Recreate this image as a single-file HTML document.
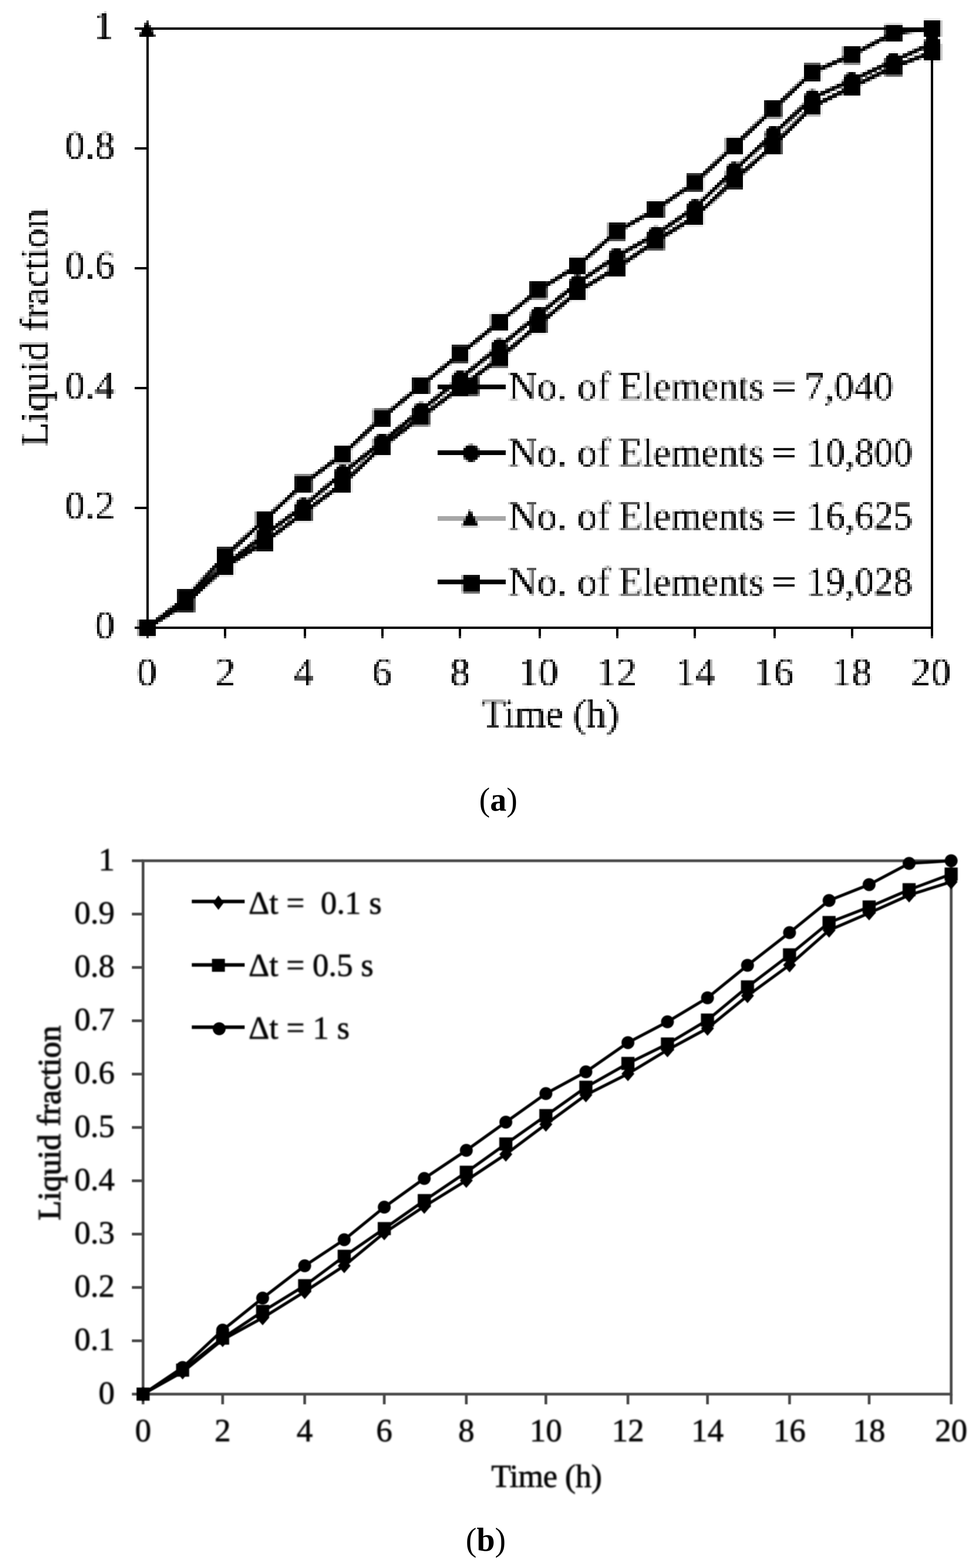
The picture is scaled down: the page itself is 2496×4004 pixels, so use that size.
<!DOCTYPE html>
<html lang="en">
<head>
<meta charset="utf-8">
<title>Liquid fraction: grid and time-step independence</title>
<style>
html,body{margin:0;padding:0;background:#fff;}
body{width:2496px;height:4004px;position:relative;}
svg{display:block;position:absolute;left:0;top:0;}
text{font-family:'Liberation Serif', 'DejaVu Serif', serif;fill:#000;}
.ta{font-size:102px;}
.tb{font-size:82.5px;fill:#262626;stroke:#262626;stroke-width:1.5px;}
.cap{font-size:84px;}
</style>
</head>
<body>
<svg width="2496" height="4004" viewBox="0 0 2496 4004">
<defs>
<filter id="pix" x="-4" y="-2" width="2502" height="1932" filterUnits="userSpaceOnUse" primitiveUnits="userSpaceOnUse" color-interpolation-filters="sRGB">
<feFlood x="-4" y="-2" width="1" height="6" flood-color="rgb(132,0,0)" result="r0"/>
<feFlood x="-3" y="-2" width="1" height="6" flood-color="rgb(130,0,0)" result="r1"/>
<feFlood x="-2" y="-2" width="1" height="6" flood-color="rgb(129,0,0)" result="r2"/>
<feFlood x="-1" y="-2" width="1" height="6" flood-color="rgb(128,0,0)" result="r3"/>
<feFlood x="0" y="-2" width="1" height="6" flood-color="rgb(126,0,0)" result="r4"/>
<feFlood x="1" y="-2" width="1" height="6" flood-color="rgb(125,0,0)" result="r5"/>
<feMerge x="-4" y="-2" width="6" height="6" result="R"><feMergeNode in="r0"/><feMergeNode in="r1"/><feMergeNode in="r2"/><feMergeNode in="r3"/><feMergeNode in="r4"/><feMergeNode in="r5"/></feMerge>
<feFlood x="-4" y="-2" width="6" height="1" flood-color="rgb(0,132,0)" result="g0"/>
<feFlood x="-4" y="-1" width="6" height="1" flood-color="rgb(0,130,0)" result="g1"/>
<feFlood x="-4" y="0" width="6" height="1" flood-color="rgb(0,129,0)" result="g2"/>
<feFlood x="-4" y="1" width="6" height="1" flood-color="rgb(0,128,0)" result="g3"/>
<feFlood x="-4" y="2" width="6" height="1" flood-color="rgb(0,126,0)" result="g4"/>
<feFlood x="-4" y="3" width="6" height="1" flood-color="rgb(0,125,0)" result="g5"/>
<feMerge x="-4" y="-2" width="6" height="6" result="G"><feMergeNode in="g0"/><feMergeNode in="g1"/><feMergeNode in="g2"/><feMergeNode in="g3"/><feMergeNode in="g4"/><feMergeNode in="g5"/></feMerge>
<feBlend in="R" in2="G" mode="lighten" x="-4" y="-2" width="6" height="6" result="cell"/>
<feTile in="cell" x="-4" y="-2" width="2502" height="1932" result="map"/>
<feGaussianBlur in="SourceGraphic" stdDeviation="1.3" x="-4" y="-2" width="2502" height="1932" result="avg"/>
<feDisplacementMap in="avg" in2="map" scale="170" xChannelSelector="R" yChannelSelector="G" x="-4" y="-2" width="2502" height="1932"/>
</filter>
<filter id="blurB" x="0" y="2100" width="2496" height="1750" filterUnits="userSpaceOnUse" color-interpolation-filters="sRGB"><feGaussianBlur stdDeviation="1.1"/></filter>
<filter id="blurT" color-interpolation-filters="sRGB"><feGaussianBlur stdDeviation="1.5"/></filter>
</defs>
<rect width="2496" height="4004" fill="#fff"/>
<g id="chartA" filter="url(#pix)">
<rect x="0" y="0" width="2496" height="1930" fill="#fff"/>
<g class="axA">
<rect x="374.5" y="70.5" width="2010" height="6"/>
<rect x="374.5" y="1600.5" width="2010" height="6"/>
<rect x="374.5" y="70.5" width="6" height="1536"/>
<rect x="2378.5" y="70.5" width="6" height="1536"/>
<rect x="345.5" y="1600.5" width="29" height="6"/>
<rect x="345.5" y="1294.5" width="29" height="6"/>
<rect x="345.5" y="988.5" width="29" height="6"/>
<rect x="345.5" y="682.5" width="29" height="6"/>
<rect x="345.5" y="376.5" width="29" height="6"/>
<rect x="345.5" y="70.5" width="29" height="6"/>
<rect x="374.5" y="1606.5" width="6" height="22"/>
<rect x="572.5" y="1606.5" width="6" height="22"/>
<rect x="776.5" y="1606.5" width="6" height="22"/>
<rect x="974.5" y="1606.5" width="6" height="22"/>
<rect x="1172.5" y="1606.5" width="6" height="22"/>
<rect x="1376.5" y="1606.5" width="6" height="22"/>
<rect x="1574.5" y="1606.5" width="6" height="22"/>
<rect x="1772.5" y="1606.5" width="6" height="22"/>
<rect x="1976.5" y="1606.5" width="6" height="22"/>
<rect x="2174.5" y="1606.5" width="6" height="22"/>
<rect x="2378.5" y="1606.5" width="6" height="22"/>
</g>
<g class="ta">
<text x="294" y="1631.0" text-anchor="end">0</text>
<text x="294" y="1324.8" text-anchor="end">0.2</text>
<text x="294" y="1018.6" text-anchor="end">0.4</text>
<text x="294" y="712.4" text-anchor="end">0.6</text>
<text x="294" y="406.2" text-anchor="end">0.8</text>
<text x="291" y="100.0" text-anchor="end">1</text>
<text x="376.0" y="1751" text-anchor="middle">0</text>
<text x="576.5" y="1751" text-anchor="middle">2</text>
<text x="776.0" y="1751" text-anchor="middle">4</text>
<text x="976.5" y="1751" text-anchor="middle">6</text>
<text x="1176.0" y="1751" text-anchor="middle">8</text>
<text x="1376.0" y="1751" text-anchor="middle">10</text>
<text x="1576.0" y="1751" text-anchor="middle">12</text>
<text x="1776.5" y="1751" text-anchor="middle">14</text>
<text x="1977.5" y="1751" text-anchor="middle">16</text>
<text x="2177.0" y="1751" text-anchor="middle">18</text>
<text x="2379.0" y="1751" text-anchor="middle">20</text>
<text x="1229.5" y="1857" textLength="353" lengthAdjust="spacing">Time (h)</text>
<text transform="translate(122.5 1141) rotate(-90)" textLength="608" lengthAdjust="spacing">Liquid fraction</text>
</g>
<polyline points="376.0,1604.0 476.0,1527.5 576.0,1420.3 676.0,1328.4 776.0,1235.6 876.0,1160.8 976.0,1067.4 1076.0,985.0 1176.0,904.3 1276.0,823.2 1376.0,741.4 1476.0,679.0 1576.0,592.0 1676.0,535.4 1776.0,466.5 1876.0,373.1 1976.0,279.2 2076.0,185.1 2176.0,141.4 2283.0,84.8 2382.5,73.0" fill="none" stroke="#000" stroke-width="10.5" stroke-linejoin="round"/>
<g><rect x="354.0" y="1582.0" width="44" height="44"/><rect x="454.0" y="1505.5" width="44" height="44"/><rect x="554.0" y="1398.3" width="44" height="44"/><rect x="654.0" y="1306.4" width="44" height="44"/><rect x="754.0" y="1213.6" width="44" height="44"/><rect x="854.0" y="1138.8" width="44" height="44"/><rect x="954.0" y="1045.4" width="44" height="44"/><rect x="1054.0" y="963.0" width="44" height="44"/><rect x="1154.0" y="882.3" width="44" height="44"/><rect x="1254.0" y="801.2" width="44" height="44"/><rect x="1354.0" y="719.4" width="44" height="44"/><rect x="1454.0" y="657.0" width="44" height="44"/><rect x="1554.0" y="570.0" width="44" height="44"/><rect x="1654.0" y="513.4" width="44" height="44"/><rect x="1754.0" y="444.5" width="44" height="44"/><rect x="1854.0" y="351.1" width="44" height="44"/><rect x="1954.0" y="257.2" width="44" height="44"/><rect x="2054.0" y="163.1" width="44" height="44"/><rect x="2154.0" y="119.4" width="44" height="44"/><rect x="2261.0" y="62.8" width="44" height="44"/><rect x="2360.5" y="51.0" width="44" height="44"/></g>
<polyline points="376.0,1604.0 476.0,1535.1 576.0,1443.2 676.0,1366.7 776.0,1292.7 876.0,1208.4 976.0,1128.9 1076.0,1048.6 1176.0,967.1 1276.0,886.0 1376.0,804.7 1476.0,723.1 1576.0,654.8 1676.0,599.1 1776.0,530.3 1876.0,435.1 1976.0,343.2 2076.0,250.3 2176.0,205.7 2283.0,156.1 2382.5,111.3" fill="none" stroke="#000" stroke-width="10.5" stroke-linejoin="round"/>
<g><circle cx="376.0" cy="1604.0" r="21.0"/><circle cx="476.0" cy="1535.1" r="21.0"/><circle cx="576.0" cy="1443.2" r="21.0"/><circle cx="676.0" cy="1366.7" r="21.0"/><circle cx="776.0" cy="1292.7" r="21.0"/><circle cx="876.0" cy="1208.4" r="21.0"/><circle cx="976.0" cy="1128.9" r="21.0"/><circle cx="1076.0" cy="1048.6" r="21.0"/><circle cx="1176.0" cy="967.1" r="21.0"/><circle cx="1276.0" cy="886.0" r="21.0"/><circle cx="1376.0" cy="804.7" r="21.0"/><circle cx="1476.0" cy="723.1" r="21.0"/><circle cx="1576.0" cy="654.8" r="21.0"/><circle cx="1676.0" cy="599.1" r="21.0"/><circle cx="1776.0" cy="530.3" r="21.0"/><circle cx="1876.0" cy="435.1" r="21.0"/><circle cx="1976.0" cy="343.2" r="21.0"/><circle cx="2076.0" cy="250.3" r="21.0"/><circle cx="2176.0" cy="205.7" r="21.0"/><circle cx="2283.0" cy="156.1" r="21.0"/><circle cx="2382.5" cy="111.3" r="21.0"/></g>
<polyline points="376.0,1604.0 476.0,1540.5 576.0,1447.8 676.0,1385.1 776.0,1310.0 876.0,1235.5 976.0,1141.2 1076.0,1065.2 1176.0,990.8 1276.0,915.5 1376.0,829.5 1476.0,745.3 1576.0,684.6 1676.0,616.0 1776.0,554.0 1876.0,460.5 1976.0,372.3 2076.0,272.5 2176.0,223.0 2283.0,171.6 2382.5,133.6" fill="none" stroke="#a6a6a6" stroke-width="10.5" stroke-linejoin="round"/>
<g><path d="M376.0 1582.0 L398.0 1626.0 L354.0 1626.0 Z"/><path d="M476.0 1518.5 L498.0 1562.5 L454.0 1562.5 Z"/><path d="M576.0 1425.8 L598.0 1469.8 L554.0 1469.8 Z"/><path d="M676.0 1363.1 L698.0 1407.1 L654.0 1407.1 Z"/><path d="M776.0 1288.0 L798.0 1332.0 L754.0 1332.0 Z"/><path d="M876.0 1213.5 L898.0 1257.5 L854.0 1257.5 Z"/><path d="M976.0 1119.2 L998.0 1163.2 L954.0 1163.2 Z"/><path d="M1076.0 1043.2 L1098.0 1087.2 L1054.0 1087.2 Z"/><path d="M1176.0 968.8 L1198.0 1012.8 L1154.0 1012.8 Z"/><path d="M1276.0 893.5 L1298.0 937.5 L1254.0 937.5 Z"/><path d="M1376.0 807.5 L1398.0 851.5 L1354.0 851.5 Z"/><path d="M1476.0 723.3 L1498.0 767.3 L1454.0 767.3 Z"/><path d="M1576.0 662.6 L1598.0 706.6 L1554.0 706.6 Z"/><path d="M1676.0 594.0 L1698.0 638.0 L1654.0 638.0 Z"/><path d="M1776.0 532.0 L1798.0 576.0 L1754.0 576.0 Z"/><path d="M1876.0 438.5 L1898.0 482.5 L1854.0 482.5 Z"/><path d="M1976.0 350.3 L1998.0 394.3 L1954.0 394.3 Z"/><path d="M2076.0 250.5 L2098.0 294.5 L2054.0 294.5 Z"/><path d="M2176.0 201.0 L2198.0 245.0 L2154.0 245.0 Z"/><path d="M2283.0 149.6 L2305.0 193.6 L2261.0 193.6 Z"/><path d="M2382.5 111.6 L2404.5 155.6 L2360.5 155.6 Z"/></g>
<polyline points="376.0,1604.0 476.0,1540.5 576.0,1447.8 676.0,1385.1 776.0,1310.0 876.0,1235.5 976.0,1141.2 1076.0,1065.2 1176.0,990.8 1276.0,915.5 1376.0,829.5 1476.0,745.3 1576.0,684.6 1676.0,616.0 1776.0,554.0 1876.0,460.5 1976.0,372.3 2076.0,272.5 2176.0,223.0 2283.0,171.6 2382.5,133.6" fill="none" stroke="#000" stroke-width="10.5" stroke-linejoin="round"/>
<g><rect x="354.0" y="1582.0" width="44" height="44"/><rect x="454.0" y="1518.5" width="44" height="44"/><rect x="554.0" y="1425.8" width="44" height="44"/><rect x="654.0" y="1363.1" width="44" height="44"/><rect x="754.0" y="1288.0" width="44" height="44"/><rect x="854.0" y="1213.5" width="44" height="44"/><rect x="954.0" y="1119.2" width="44" height="44"/><rect x="1054.0" y="1043.2" width="44" height="44"/><rect x="1154.0" y="968.8" width="44" height="44"/><rect x="1254.0" y="893.5" width="44" height="44"/><rect x="1354.0" y="807.5" width="44" height="44"/><rect x="1454.0" y="723.3" width="44" height="44"/><rect x="1554.0" y="662.6" width="44" height="44"/><rect x="1654.0" y="594.0" width="44" height="44"/><rect x="1754.0" y="532.0" width="44" height="44"/><rect x="1854.0" y="438.5" width="44" height="44"/><rect x="1954.0" y="350.3" width="44" height="44"/><rect x="2054.0" y="250.5" width="44" height="44"/><rect x="2154.0" y="201.0" width="44" height="44"/><rect x="2261.0" y="149.6" width="44" height="44"/><rect x="2360.5" y="111.6" width="44" height="44"/></g>
<path d="M376.0 51.0 L398.0 95.0 L354.0 95.0 Z"/>
<rect x="1118" y="982.5" width="174" height="12" fill="#000"/>
<rect x="1180.0" y="966.0" width="44" height="44"/>
<text y="1021.0" class="ta"><tspan x="1299" textLength="150" lengthAdjust="spacingAndGlyphs">No.</tspan> <tspan x="1475" textLength="85" lengthAdjust="spacingAndGlyphs">of</tspan> <tspan x="1581" textLength="372" lengthAdjust="spacingAndGlyphs">Elements</tspan> <tspan x="1971" textLength="66" lengthAdjust="spacingAndGlyphs">=</tspan> <tspan x="2056" textLength="227" lengthAdjust="spacingAndGlyphs">7,040</tspan></text>
<rect x="1118" y="1150.5" width="174" height="12" fill="#000"/>
<circle cx="1204.0" cy="1157.5" r="22.0"/>
<text y="1189.5" class="ta"><tspan x="1299" textLength="150" lengthAdjust="spacingAndGlyphs">No.</tspan> <tspan x="1475" textLength="85" lengthAdjust="spacingAndGlyphs">of</tspan> <tspan x="1581" textLength="372" lengthAdjust="spacingAndGlyphs">Elements</tspan> <tspan x="1971" textLength="66" lengthAdjust="spacingAndGlyphs">=</tspan> <tspan x="2061" textLength="271" lengthAdjust="spacingAndGlyphs">10,800</tspan></text>
<rect x="1118" y="1318.5" width="174" height="12" fill="#a6a6a6"/>
<path d="M1201.5 1300.5 L1223.5 1344.5 L1179.5 1344.5 Z"/>
<text y="1351.5" class="ta"><tspan x="1299" textLength="150" lengthAdjust="spacingAndGlyphs">No.</tspan> <tspan x="1475" textLength="85" lengthAdjust="spacingAndGlyphs">of</tspan> <tspan x="1581" textLength="372" lengthAdjust="spacingAndGlyphs">Elements</tspan> <tspan x="1971" textLength="66" lengthAdjust="spacingAndGlyphs">=</tspan> <tspan x="2061" textLength="271" lengthAdjust="spacingAndGlyphs">16,625</tspan></text>
<rect x="1118" y="1480.5" width="174" height="12" fill="#000"/>
<rect x="1182.0" y="1469.7" width="44" height="44"/>
<text y="1520.0" class="ta"><tspan x="1299" textLength="150" lengthAdjust="spacingAndGlyphs">No.</tspan> <tspan x="1475" textLength="85" lengthAdjust="spacingAndGlyphs">of</tspan> <tspan x="1581" textLength="372" lengthAdjust="spacingAndGlyphs">Elements</tspan> <tspan x="1971" textLength="66" lengthAdjust="spacingAndGlyphs">=</tspan> <tspan x="2061" textLength="271" lengthAdjust="spacingAndGlyphs">19,028</tspan></text>
</g>
<g id="chartB" filter="url(#blurB)">
<rect x="365.5" y="2198.0" width="2064.5" height="1362.0" fill="none" stroke="#484848" stroke-width="7"/>
<line x1="337" x2="365.5" y1="3560.0" y2="3560.0" stroke="#484848" stroke-width="7"/>
<line x1="337" x2="365.5" y1="3423.8" y2="3423.8" stroke="#484848" stroke-width="7"/>
<line x1="337" x2="365.5" y1="3287.6" y2="3287.6" stroke="#484848" stroke-width="7"/>
<line x1="337" x2="365.5" y1="3151.4" y2="3151.4" stroke="#484848" stroke-width="7"/>
<line x1="337" x2="365.5" y1="3015.2" y2="3015.2" stroke="#484848" stroke-width="7"/>
<line x1="337" x2="365.5" y1="2879.0" y2="2879.0" stroke="#484848" stroke-width="7"/>
<line x1="337" x2="365.5" y1="2742.8" y2="2742.8" stroke="#484848" stroke-width="7"/>
<line x1="337" x2="365.5" y1="2606.6" y2="2606.6" stroke="#484848" stroke-width="7"/>
<line x1="337" x2="365.5" y1="2470.4" y2="2470.4" stroke="#484848" stroke-width="7"/>
<line x1="337" x2="365.5" y1="2334.2" y2="2334.2" stroke="#484848" stroke-width="7"/>
<line x1="337" x2="365.5" y1="2198.0" y2="2198.0" stroke="#484848" stroke-width="7"/>
<line x1="365.5" x2="365.5" y1="3560" y2="3586" stroke="#484848" stroke-width="7"/>
<line x1="568.8" x2="568.8" y1="3560" y2="3586" stroke="#484848" stroke-width="7"/>
<line x1="778.4" x2="778.4" y1="3560" y2="3586" stroke="#484848" stroke-width="7"/>
<line x1="981.7" x2="981.7" y1="3560" y2="3586" stroke="#484848" stroke-width="7"/>
<line x1="1191.3" x2="1191.3" y1="3560" y2="3586" stroke="#484848" stroke-width="7"/>
<line x1="1394.6" x2="1394.6" y1="3560" y2="3586" stroke="#484848" stroke-width="7"/>
<line x1="1604.2" x2="1604.2" y1="3560" y2="3586" stroke="#484848" stroke-width="7"/>
<line x1="1807.5" x2="1807.5" y1="3560" y2="3586" stroke="#484848" stroke-width="7"/>
<line x1="2017.1" x2="2017.1" y1="3560" y2="3586" stroke="#484848" stroke-width="7"/>
<line x1="2220.4" x2="2220.4" y1="3560" y2="3586" stroke="#484848" stroke-width="7"/>
<line x1="2430.0" x2="2430.0" y1="3560" y2="3586" stroke="#484848" stroke-width="7"/>
<g class="tb" filter="url(#blurT)">
<text x="293" y="3583.5" text-anchor="end">0</text>
<text x="293" y="3447.3" text-anchor="end">0.1</text>
<text x="293" y="3311.1" text-anchor="end">0.2</text>
<text x="293" y="3174.9" text-anchor="end">0.3</text>
<text x="293" y="3038.7" text-anchor="end">0.4</text>
<text x="293" y="2902.5" text-anchor="end">0.5</text>
<text x="293" y="2766.3" text-anchor="end">0.6</text>
<text x="293" y="2630.1" text-anchor="end">0.7</text>
<text x="293" y="2493.9" text-anchor="end">0.8</text>
<text x="293" y="2357.7" text-anchor="end">0.9</text>
<text x="293" y="2221.5" text-anchor="end">1</text>
<text transform="translate(153.5 3116) rotate(-90)" textLength="497" lengthAdjust="spacing" stroke-width="2.6">Liquid fraction</text>
</g>
<g class="tb" filter="url(#blurT)">
<text x="365.5" y="3679.5" text-anchor="middle">0</text>
<text x="568.8" y="3679.5" text-anchor="middle">2</text>
<text x="778.4" y="3679.5" text-anchor="middle">4</text>
<text x="981.7" y="3679.5" text-anchor="middle">6</text>
<text x="1191.3" y="3679.5" text-anchor="middle">8</text>
<text x="1394.6" y="3679.5" text-anchor="middle">10</text>
<text x="1604.2" y="3679.5" text-anchor="middle">12</text>
<text x="1807.5" y="3679.5" text-anchor="middle">14</text>
<text x="2017.1" y="3679.5" text-anchor="middle">16</text>
<text x="2220.4" y="3679.5" text-anchor="middle">18</text>
<text x="2430.0" y="3679.5" text-anchor="middle">20</text>
<text x="1255" y="3797" textLength="283" lengthAdjust="spacing">Time (h)</text>
</g>
<polyline points="365.5,3560.0 466.5,3503.5 568.8,3421.1 671.0,3365.2 778.4,3298.5 879.4,3232.2 981.7,3148.3 1083.9,3080.7 1191.3,3014.5 1292.3,2947.5 1394.6,2871.0 1496.8,2796.1 1604.2,2742.1 1705.2,2681.1 1807.5,2625.9 1909.7,2542.7 2017.1,2464.3 2118.1,2375.5 2220.4,2331.5 2322.6,2285.7 2430.0,2251.9" fill="none" stroke="#000" stroke-width="7.6" stroke-linejoin="round"/>
<g><path d="M365.5 3541.0 L382.0 3560.0 L365.5 3579.0 L349.0 3560.0 Z"/><path d="M466.5 3484.5 L483.0 3503.5 L466.5 3522.5 L450.0 3503.5 Z"/><path d="M568.8 3402.1 L585.3 3421.1 L568.8 3440.1 L552.3 3421.1 Z"/><path d="M671.0 3346.2 L687.5 3365.2 L671.0 3384.2 L654.5 3365.2 Z"/><path d="M778.4 3279.5 L794.9 3298.5 L778.4 3317.5 L761.9 3298.5 Z"/><path d="M879.4 3213.2 L895.9 3232.2 L879.4 3251.2 L862.9 3232.2 Z"/><path d="M981.7 3129.3 L998.2 3148.3 L981.7 3167.3 L965.2 3148.3 Z"/><path d="M1083.9 3061.7 L1100.4 3080.7 L1083.9 3099.7 L1067.4 3080.7 Z"/><path d="M1191.3 2995.5 L1207.8 3014.5 L1191.3 3033.5 L1174.8 3014.5 Z"/><path d="M1292.3 2928.5 L1308.8 2947.5 L1292.3 2966.5 L1275.8 2947.5 Z"/><path d="M1394.6 2852.0 L1411.1 2871.0 L1394.6 2890.0 L1378.1 2871.0 Z"/><path d="M1496.8 2777.1 L1513.3 2796.1 L1496.8 2815.1 L1480.3 2796.1 Z"/><path d="M1604.2 2723.1 L1620.7 2742.1 L1604.2 2761.1 L1587.7 2742.1 Z"/><path d="M1705.2 2662.1 L1721.7 2681.1 L1705.2 2700.1 L1688.7 2681.1 Z"/><path d="M1807.5 2606.9 L1824.0 2625.9 L1807.5 2644.9 L1791.0 2625.9 Z"/><path d="M1909.7 2523.7 L1926.2 2542.7 L1909.7 2561.7 L1893.2 2542.7 Z"/><path d="M2017.1 2445.3 L2033.6 2464.3 L2017.1 2483.3 L2000.6 2464.3 Z"/><path d="M2118.1 2356.5 L2134.6 2375.5 L2118.1 2394.5 L2101.6 2375.5 Z"/><path d="M2220.4 2312.5 L2236.9 2331.5 L2220.4 2350.5 L2203.9 2331.5 Z"/><path d="M2322.6 2266.7 L2339.1 2285.7 L2322.6 2304.7 L2306.1 2285.7 Z"/><path d="M2430.0 2232.9 L2446.5 2251.9 L2430.0 2270.9 L2413.5 2251.9 Z"/></g>
<polyline points="365.5,3560.0 466.5,3498.7 568.8,3417.0 671.0,3348.9 778.4,3283.1 879.4,3208.1 981.7,3137.4 1083.9,3065.9 1191.3,2993.4 1292.3,2921.2 1394.6,2848.9 1496.8,2776.3 1604.2,2715.6 1705.2,2666.0 1807.5,2604.8 1909.7,2520.1 2017.1,2438.4 2118.1,2355.7 2220.4,2316.1 2322.6,2272.0 2430.0,2232.1" fill="none" stroke="#000" stroke-width="7.6" stroke-linejoin="round"/>
<g><rect x="348.8" y="3543.2" width="33.5" height="33.5"/><rect x="449.8" y="3482.0" width="33.5" height="33.5"/><rect x="552.0" y="3400.2" width="33.5" height="33.5"/><rect x="654.2" y="3332.1" width="33.5" height="33.5"/><rect x="761.6" y="3266.4" width="33.5" height="33.5"/><rect x="862.6" y="3191.3" width="33.5" height="33.5"/><rect x="965.0" y="3120.6" width="33.5" height="33.5"/><rect x="1067.2" y="3049.1" width="33.5" height="33.5"/><rect x="1174.5" y="2976.7" width="33.5" height="33.5"/><rect x="1275.5" y="2904.5" width="33.5" height="33.5"/><rect x="1377.8" y="2832.1" width="33.5" height="33.5"/><rect x="1480.0" y="2759.6" width="33.5" height="33.5"/><rect x="1587.4" y="2698.8" width="33.5" height="33.5"/><rect x="1688.4" y="2649.2" width="33.5" height="33.5"/><rect x="1790.7" y="2588.1" width="33.5" height="33.5"/><rect x="1892.9" y="2503.4" width="33.5" height="33.5"/><rect x="2000.3" y="2421.6" width="33.5" height="33.5"/><rect x="2101.3" y="2339.0" width="33.5" height="33.5"/><rect x="2203.7" y="2299.3" width="33.5" height="33.5"/><rect x="2305.8" y="2255.2" width="33.5" height="33.5"/><rect x="2413.2" y="2215.3" width="33.5" height="33.5"/></g>
<polyline points="365.5,3560.0 466.5,3491.9 568.8,3396.6 671.0,3314.8 778.4,3232.3 879.4,3165.7 981.7,3082.6 1083.9,3009.3 1191.3,2937.6 1292.3,2865.4 1394.6,2792.6 1496.8,2737.1 1604.2,2662.4 1705.2,2609.3 1807.5,2548.0 1909.7,2465.0 2017.1,2381.5 2118.1,2299.5 2220.4,2258.9 2322.6,2204.8 2430.0,2198.0" fill="none" stroke="#000" stroke-width="7.6" stroke-linejoin="round"/>
<g><circle cx="365.5" cy="3560.0" r="16.5"/><circle cx="466.5" cy="3491.9" r="16.5"/><circle cx="568.8" cy="3396.6" r="16.5"/><circle cx="671.0" cy="3314.8" r="16.5"/><circle cx="778.4" cy="3232.3" r="16.5"/><circle cx="879.4" cy="3165.7" r="16.5"/><circle cx="981.7" cy="3082.6" r="16.5"/><circle cx="1083.9" cy="3009.3" r="16.5"/><circle cx="1191.3" cy="2937.6" r="16.5"/><circle cx="1292.3" cy="2865.4" r="16.5"/><circle cx="1394.6" cy="2792.6" r="16.5"/><circle cx="1496.8" cy="2737.1" r="16.5"/><circle cx="1604.2" cy="2662.4" r="16.5"/><circle cx="1705.2" cy="2609.3" r="16.5"/><circle cx="1807.5" cy="2548.0" r="16.5"/><circle cx="1909.7" cy="2465.0" r="16.5"/><circle cx="2017.1" cy="2381.5" r="16.5"/><circle cx="2118.1" cy="2299.5" r="16.5"/><circle cx="2220.4" cy="2258.9" r="16.5"/><circle cx="2322.6" cy="2204.8" r="16.5"/><circle cx="2430.0" cy="2198.0" r="16.5"/></g>
<line x1="490" x2="625" y1="2302.0" y2="2302.0" stroke="#000" stroke-width="9"/>
<path d="M558.0 2286.5 L572.0 2305.0 L558.0 2323.5 L544.0 2305.0 Z"/>
<line x1="490" x2="625" y1="2464.0" y2="2464.0" stroke="#000" stroke-width="9"/>
<rect x="541.5" y="2448.5" width="33" height="33"/>
<line x1="490" x2="625" y1="2623.0" y2="2623.0" stroke="#000" stroke-width="9"/>
<circle cx="560.0" cy="2627.0" r="16.5"/>
<g class="tb" filter="url(#blurT)">
<text x="635" y="2333.0" textLength="340" lengthAdjust="spacing">Δt =  0.1 s</text>
<text x="635" y="2491.7" textLength="319" lengthAdjust="spacing">Δt = 0.5 s</text>
<text x="635" y="2652.4" textLength="258" lengthAdjust="spacing">Δt = 1 s</text>
</g>
</g>
<text x="1273" y="2070" text-anchor="middle" class="cap">(<tspan font-weight="bold">a</tspan>)</text>
<text x="1241" y="3960" text-anchor="middle" class="cap">(<tspan font-weight="bold">b</tspan>)</text>
</svg>
</body>
</html>
